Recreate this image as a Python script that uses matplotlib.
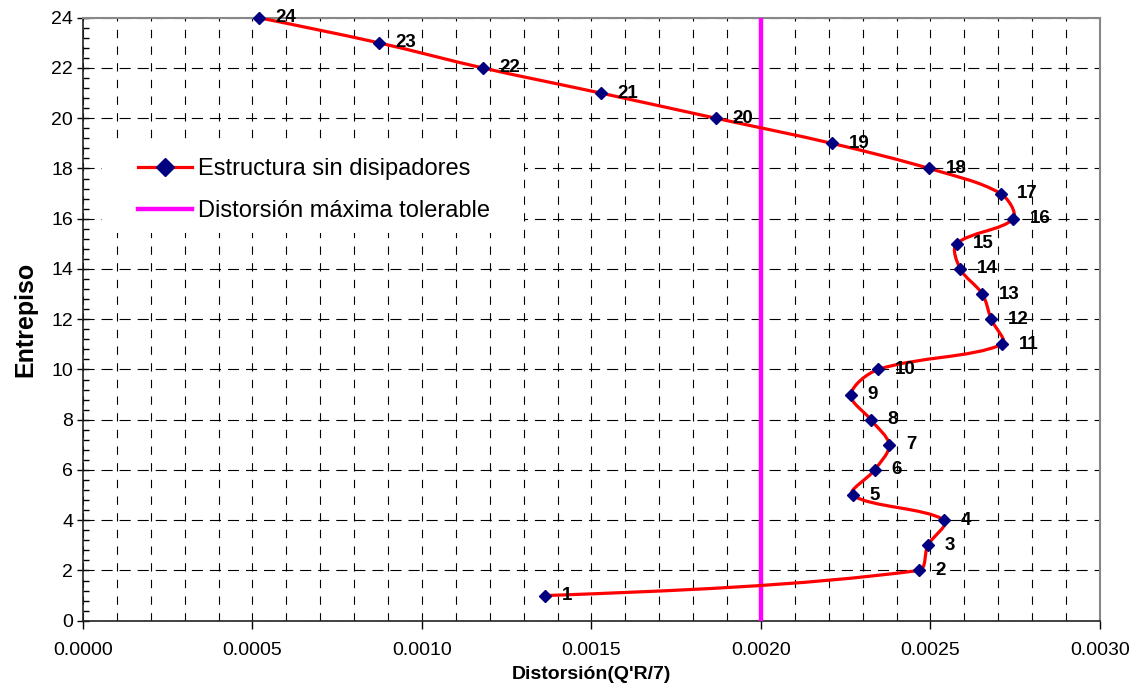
import numpy as np
import matplotlib
matplotlib.use('Agg')
import matplotlib.pyplot as plt
from matplotlib.path import Path
from matplotlib.patches import PathPatch, Rectangle
from matplotlib.lines import Line2D
from matplotlib.ticker import MultipleLocator, FormatStrFormatter

# Datos
pisos = [1, 2, 3, 4, 5, 6, 7, 8, 9, 10, 11, 12,
         13, 14, 15, 16, 17, 18, 19, 20, 21, 22, 23, 24]
distorsion = [0.001363, 0.002465, 0.002492, 0.002541, 0.002270, 0.002335,
              0.002378, 0.002324, 0.002265, 0.002346, 0.002711, 0.002679,
              0.002653, 0.002588, 0.002577, 0.002744, 0.002707, 0.002496,
              0.002209, 0.001867, 0.001528, 0.001180, 0.000873, 0.000519]
dist_max = 0.0020

plt.rcParams['font.family'] = ['Liberation Sans', 'DejaVu Sans']
plt.rcParams['lines.scale_dashes'] = False

fig = plt.figure(figsize=(11.38, 6.9), dpi=100)
ax = fig.add_axes([0.0729, 0.1004, 0.8937, 0.8739])
ax.set_xlim(0, 0.003)
ax.set_ylim(0, 24)


def curva_suave(x, y, ax, t=1/3.):
    """ Curva suavizada tipo Excel: Bezier con tangentes escaladas
    por la longitud de los tramos (medida en pixeles). """
    p = np.column_stack([x, y])
    s = ax.transData.transform(p)  # escala de pantalla para las distancias
    n = len(p)
    c_antes = [p[0]] * n
    c_despues = [p[0]] * n
    for i in range(1, n - 1):
        d01 = np.hypot(*(s[i] - s[i - 1]))
        d12 = np.hypot(*(s[i + 1] - s[i]))
        fa = t * d01 / (d01 + d12)
        fb = t * d12 / (d01 + d12)
        c_antes[i] = p[i] - fa * (p[i + 1] - p[i - 1])
        c_despues[i] = p[i] + fb * (p[i + 1] - p[i - 1])
    c_despues[0] = p[0] + (c_antes[1] - p[0]) / 2.
    c_antes[n - 1] = p[n - 1] + (c_despues[n - 2] - p[n - 1]) / 2.
    verts = [p[0]]
    codes = [Path.MOVETO]
    for i in range(n - 1):
        verts += [c_despues[i], c_antes[i + 1], p[i + 1]]
        codes += [Path.CURVE4] * 3
    return Path(verts, codes)


# Linea de distorsion maxima
ax.plot([dist_max, dist_max], [0, 24], color='#FF00FF', lw=3.2, zorder=3,
        solid_capstyle='round')

# Curva suavizada + marcadores
ax.add_patch(PathPatch(curva_suave(distorsion, pisos, ax), fill=False,
                       edgecolor='#FF0000', lw=2.3, zorder=4))
ax.plot(distorsion, pisos, ls='none', marker='D', ms=6.6, color='#000080',
        zorder=5, clip_on=False)

for d, p in zip(distorsion, pisos):
    ax.annotate(str(p), (d, p), xytext=(12, 0), textcoords='offset points',
                ha='left', va='center', fontsize=13.5, fontweight='bold',
                zorder=6)

ax.xaxis.set_major_locator(MultipleLocator(0.0005))
ax.xaxis.set_minor_locator(MultipleLocator(0.0001))
ax.xaxis.set_major_formatter(FormatStrFormatter('%.4f'))
ax.yaxis.set_major_locator(MultipleLocator(2))
ax.yaxis.set_minor_locator(MultipleLocator(0.4))

ax.tick_params(axis='x', which='major', direction='out', length=6, width=1,
               labelsize=14, pad=9)
ax.tick_params(axis='x', which='minor', length=0)
ax.tick_params(axis='y', which='major', direction='inout', length=8, width=1,
               labelsize=14, pad=3)
ax.tick_params(axis='y', which='minor', direction='in', length=4, width=1)

ax.grid(True, which='both', axis='x', color='black', lw=0.8, ls=(0, (6, 6)))
ax.grid(True, which='major', axis='y', color='black', lw=0.8, ls=(0, (8, 5)))
ax.set_axisbelow(True)

for s in ['left', 'bottom']:
    ax.spines[s].set_color('#222222')
    ax.spines[s].set_linewidth(1.2)
for s in ['top', 'right']:
    ax.spines[s].set_color('#888888')
    ax.spines[s].set_linewidth(1.5)

ax.set_xlabel("Distorsión(Q'R/7)", fontsize=14, fontweight='bold', labelpad=5)
ax.set_ylabel('Entrepiso', fontsize=18, fontweight='bold', labelpad=10)

# Fondo blanco de la leyenda (tapa la cuadricula)
ax.add_patch(Rectangle((0.0187, 0.643), 0.415, 0.149, transform=ax.transAxes,
                       facecolor='white', edgecolor='none', zorder=2))

h1 = Line2D([], [], color='#FF0000', lw=2.3, marker='D', ms=9,
            mfc='#000080', mec='#000080')
h2 = Line2D([], [], color='#FF00FF', lw=3.2)
leg = ax.legend([h1, h2], ['Estructura sin disipadores', 'Distorsión máxima tolerable'],
                loc='upper left', bbox_to_anchor=(0.045, 0.783), frameon=False,
                fontsize=17, handlelength=2.3, handletextpad=0.25,
                labelspacing=0.84, borderaxespad=0)
leg.set_zorder(7)

fig.savefig('out.png', dpi=100)
